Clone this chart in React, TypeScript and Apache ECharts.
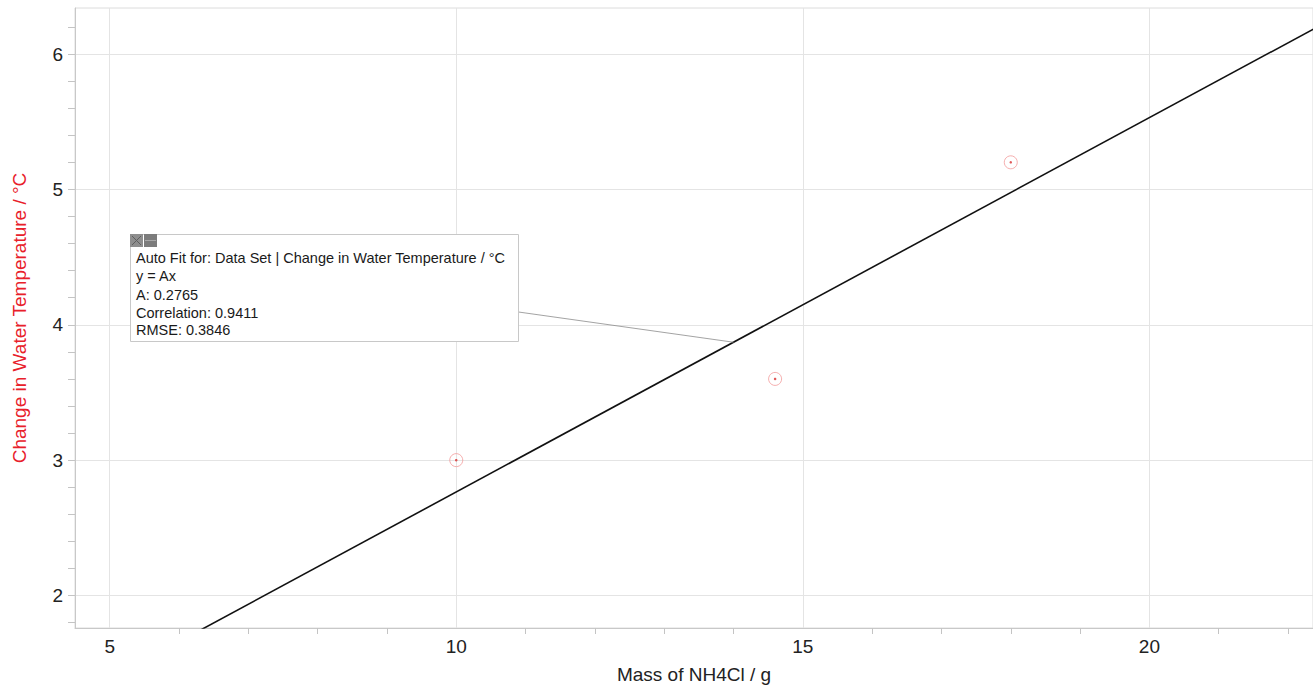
import React, { useEffect, useRef } from "react";
import * as echarts from "echarts";

// ---- data ----
const xAxisName = "Mass of NH4Cl / g";
const yAxisName = "Change in Water Temperature / °C";
const seriesName = "Data Set";
const massValues = [10.0, 14.6, 18.0];
const tempChangeValues = [3.0, 3.6, 5.2];
const fitA = 0.2765;
const fitXEnds = [0, 25];
const fitAnchorX = 14;
const xMajorTicks = [5, 10, 15, 20];
const xMinorTicks = [6, 7, 8, 9, 11, 12, 13, 14, 16, 17, 18, 19, 21, 22];
const yMajorTicks = [2, 3, 4, 5, 6];
const yMinorTicks = [
  1.8, 2.2, 2.4, 2.6, 2.8, 3.2, 3.4, 3.6, 3.8, 4.2, 4.4, 4.6, 4.8, 5.2, 5.4,
  5.6, 5.8, 6.2,
];
const fitInfoLines = [
  "Auto Fit for: Data Set | Change in Water Temperature / °C",
  "y = Ax",
  "A: 0.2765",
  "Correlation: 0.9411",
  "RMSE: 0.3846",
];
const xRange = [4.5, 22.36];
const yRange = [1.76, 6.34];

const FONT = "'Liberation Sans', Arial, sans-serif";

export default function App() {
  const ref = useRef<HTMLDivElement>(null);

  useEffect(() => {
    if (!ref.current) return;
    const chart = echarts.init(ref.current, undefined, { renderer: "svg" });

    const points = massValues.map((m, i) => [m, tempChangeValues[i]]);
    const fitData = fitXEnds.map((x) => [x, fitA * x]);

    const option: any = {
      animation: false,
      backgroundColor: "#ffffff",
      textStyle: { fontFamily: FONT },
      grid: {
        left: 75,
        right: -1,
        top: 8,
        bottom: 58,
        show: true,
        borderColor: "#dcdcdc",
        borderWidth: 1,
        backgroundColor: "transparent",
      },
      xAxis: [
        {
          type: "value",
          min: xRange[0],
          max: xRange[1],
          position: "bottom",
          axisLine: { show: true, lineStyle: { color: "#c8c8c8", width: 1 } },
          axisTick: {
            show: true,
            customValues: xMinorTicks,
            length: 6,
            lineStyle: { color: "#c4c4c4" },
          },
          axisLabel: {
            customValues: xMajorTicks,
            fontSize: 19,
            color: "#222",
            margin: 9,
            fontFamily: FONT,
          },
          splitLine: { show: false },
          name: xAxisName,
          nameLocation: "middle",
          nameGap: 37,
          nameTextStyle: { fontSize: 19, color: "#222", fontFamily: FONT },
        },
        {
          type: "value",
          min: xRange[0],
          max: xRange[1],
          splitNumber: 3,
          position: "top",
          axisLine: { show: false },
          axisTick: { show: false, customValues: xMajorTicks },
          axisLabel: { show: false, customValues: xMajorTicks },
          splitLine: { show: true, lineStyle: { color: "#e4e4e4", width: 1 } },
        },
      ],
      yAxis: [
        {
          type: "value",
          min: yRange[0],
          max: yRange[1],
          position: "left",
          axisLine: { show: true, lineStyle: { color: "#c8c8c8", width: 1 } },
          axisTick: {
            show: true,
            customValues: [...yMinorTicks, ...yMajorTicks],
            length: 7,
            lineStyle: { color: "#c4c4c4" },
          },
          axisLabel: {
            customValues: yMajorTicks,
            fontSize: 19,
            color: "#222",
            margin: 12,
            fontFamily: FONT,
          },
          splitLine: { show: false },
          name: yAxisName,
          nameLocation: "middle",
          nameGap: 46,
          nameRotate: 90,
          nameTextStyle: { fontSize: 19, color: "#e8202a", fontFamily: FONT },
        },
        {
          type: "value",
          min: yRange[0],
          max: yRange[1],
          splitNumber: 4,
          position: "right",
          axisLine: { show: false },
          axisTick: { show: false, customValues: yMajorTicks },
          axisLabel: { show: false, customValues: yMajorTicks },
          splitLine: { show: true, lineStyle: { color: "#e4e4e4", width: 1 } },
        },
      ],
      series: [
        {
          name: "Auto Fit",
          type: "line",
          xAxisIndex: 0,
          yAxisIndex: 0,
          data: fitData,
          showSymbol: false,
          symbol: "none",
          clip: true,
          lineStyle: { color: "#111", width: 1.6 },
          z: 3,
        },
        {
          name: seriesName,
          type: "scatter",
          xAxisIndex: 0,
          yAxisIndex: 0,
          data: points,
          symbol: "circle",
          symbolSize: 13,
          itemStyle: {
            color: "rgba(255,255,255,0)",
            borderColor: "#f29a9a",
            borderWidth: 1,
          },
          z: 4,
        },
        {
          name: seriesName + " centre",
          type: "scatter",
          xAxisIndex: 0,
          yAxisIndex: 0,
          data: points,
          symbol: "circle",
          symbolSize: 2.5,
          itemStyle: { color: "#d83030" },
          z: 5,
        },
      ],
    };
    chart.setOption(option);

    const anchor = chart.convertToPixel(
      { xAxisIndex: 0, yAxisIndex: 0 },
      [fitAnchorX, fitA * fitAnchorX]
    ) as number[];

    const boxX = 130.5;
    const boxY = 234.5;
    const boxW = 388;
    const boxH = 107;
    const lineYs = [258, 276, 295, 313, 330];

    const graphics: any[] = [
      {
        type: "line",
        z: 10,
        shape: { x1: boxX + boxW, y1: 312, x2: anchor[0], y2: anchor[1] },
        style: { stroke: "#8c8c8c", lineWidth: 0.8 },
      },
      {
        type: "rect",
        z: 11,
        shape: { x: boxX, y: boxY, width: boxW, height: boxH },
        style: { fill: "#ffffff", stroke: "#c8c8c8", lineWidth: 1 },
      },
      {
        type: "rect",
        z: 12,
        shape: { x: 130, y: 234, width: 13, height: 13 },
        style: { fill: "#8e8e8e" },
      },
      {
        type: "line",
        z: 13,
        shape: { x1: 132, y1: 236, x2: 141, y2: 245 },
        style: { stroke: "#5e5e5e", lineWidth: 1 },
      },
      {
        type: "line",
        z: 13,
        shape: { x1: 141, y1: 236, x2: 132, y2: 245 },
        style: { stroke: "#5e5e5e", lineWidth: 1 },
      },
      {
        type: "rect",
        z: 12,
        shape: { x: 144, y: 234, width: 13, height: 13 },
        style: { fill: "#7c7c7c" },
      },
      {
        type: "line",
        z: 13,
        shape: { x1: 145, y1: 240.5, x2: 156, y2: 240.5 },
        style: { stroke: "#a8a8a8", lineWidth: 1 },
      },
      ...fitInfoLines.map((t, i) => ({
        type: "text",
        z: 14,
        x: 136,
        y: lineYs[i],
        style: {
          text: t,
          fontSize: 14.5,
          fontFamily: FONT,
          fill: "#1a1a1a",
          verticalAlign: "middle",
          align: "left",
        },
      })),
    ];
    chart.setOption({ graphic: graphics });

    return () => chart.dispose();
  }, []);

  return (
    <div
      ref={ref}
      style={{
        position: "fixed",
        left: 0,
        top: 0,
        width: 1313,
        height: 689,
        background: "#fff",
      }}
    />
  );
}
